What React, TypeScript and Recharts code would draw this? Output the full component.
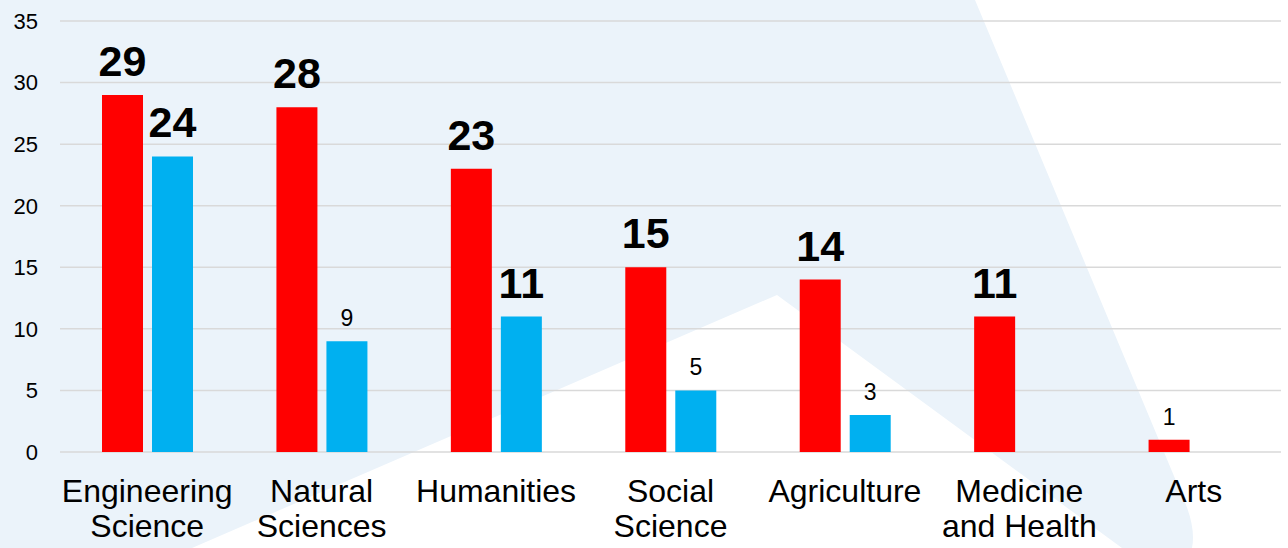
import { BarChart, Bar, XAxis, YAxis, CartesianGrid, LabelList } from "recharts";

const categories = [
  "Engineering Science",
  "Natural Sciences",
  "Humanities",
  "Social Science",
  "Agriculture",
  "Medicine and Health",
  "Arts",
];
const categoryLines = [
  ["Engineering", "Science"],
  ["Natural", "Sciences"],
  ["Humanities"],
  ["Social", "Science"],
  ["Agriculture"],
  ["Medicine", "and Health"],
  ["Arts"],
];
const redValues = [29, 28, 23, 15, 14, 11, 1];
const blueValues: (number | null)[] = [24, 9, 11, 5, 3, null, null];
const yTicks = [0, 5, 10, 15, 20, 25, 30, 35];

const data = categories.map((name, i) => ({
  name,
  idx: i,
  red: redValues[i],
  blue: blueValues[i],
}));

const FONT = "'Liberation Sans', Arial, sans-serif";

function ValueLabel(props: any) {
  const { x, y, width, value } = props;
  if (value == null || value === 0) return null;
  const big = value >= 10;
  return (
    <text
      x={x + width / 2}
      y={y - (big ? 19 : 15)}
      textAnchor="middle"
      fontFamily={FONT}
      fontSize={big ? 43 : 23}
      fontWeight={big ? "bold" : "normal"}
      fill="#000"
    >
      {value}
    </text>
  );
}

function CategoryTick(props: any) {
  const { x, payload } = props;
  const lines = categoryLines[payload.index] ?? [payload.value];
  return (
    <text x={x} y={502} textAnchor="middle" fontFamily={FONT} fontSize={32} fill="#000">
      {lines.map((l, i) => (
        <tspan key={i} x={x} dy={i === 0 ? 0 : 35}>
          {l}
        </tspan>
      ))}
    </text>
  );
}

export default function App() {
  return (
    <div style={{ position: "fixed", left: 0, top: 0, width: 1288, height: 548, background: "#fff" }}>
      <svg width={1288} height={548} style={{ position: "absolute", left: 0, top: 0 }}>
        <path
          d="M0,0 L975,0 L1184,500 Q1196,528 1192,548 L1122,548 L777,295 L192,548 L0,548 Z"
          fill="#ebf3fa"
        />
      </svg>
      <div style={{ position: "absolute", left: 0, top: 0 }}>
        <BarChart
          width={1288}
          height={548}
          data={data}
          margin={{ top: 21, right: 7, left: 0, bottom: 0 }}
          barSize={41}
          barGap={9}
        >
          <CartesianGrid vertical={false} stroke="#d9d9d9" strokeWidth={1.5} />
          <XAxis
            dataKey="name"
            axisLine={false}
            tickLine={false}
            height={96}
            interval={0}
            tick={<CategoryTick />}
          />
          <YAxis
            domain={[0, 35]}
            ticks={yTicks}
            width={60}
            axisLine={false}
            tickLine={false}
            tickMargin={16}
            tick={{ fontSize: 22, fill: "#000", fontFamily: FONT }}
          />
          <Bar dataKey="red" fill="#ff0000" isAnimationActive={false}>
            <LabelList dataKey="red" content={<ValueLabel />} />
          </Bar>
          <Bar dataKey="blue" fill="#00b0f0" isAnimationActive={false}>
            <LabelList dataKey="blue" content={<ValueLabel />} />
          </Bar>
        </BarChart>
      </div>
    </div>
  );
}
